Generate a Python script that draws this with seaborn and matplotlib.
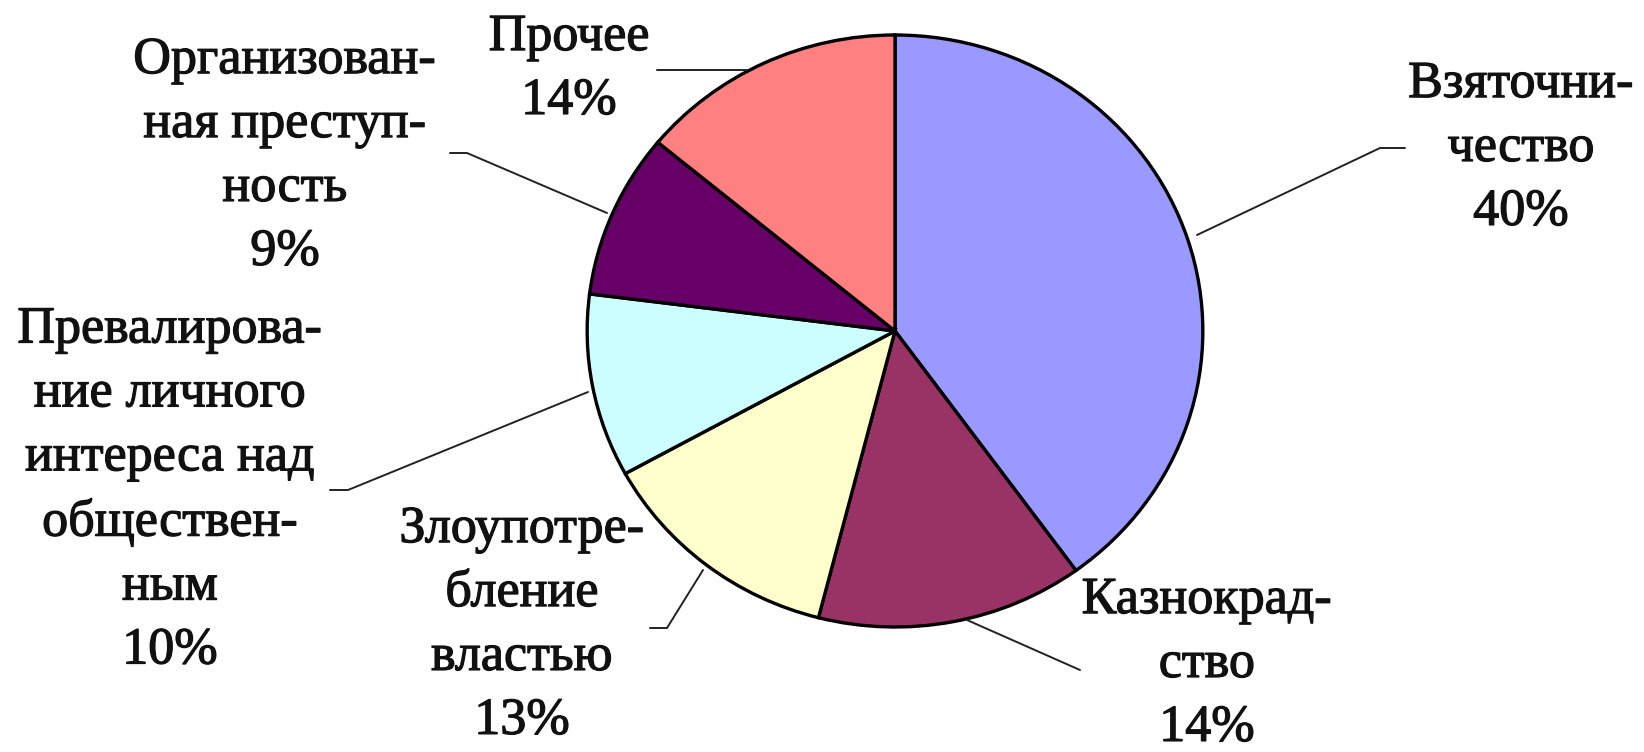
import matplotlib
matplotlib.use("Agg")
import matplotlib.pyplot as plt
import matplotlib.patheffects as pe
import seaborn as sns

categories = [
    "Взяточни-\nчество",
    "Казнокрад-\nство",
    "Злоупотре-\nбление\nвластью",
    "Превалирова-\nние личного\nинтереса над\nобществен-\nным",
    "Организован-\nная преступ-\nность",
    "Прочее",
]
values = [40, 14, 13, 10, 9, 14]
colors = ["#9999FF", "#993366", "#FFFFCC", "#CCFFFF", "#660066", "#FF8080"]

sns.set_style("white")
plt.rcParams["font.family"] = ["Liberation Serif", "DejaVu Serif"]

W, H = 1644, 752
EX = 1.04  # horizontal stretch of the original picture
fig = plt.figure(figsize=(W / 100, H / 100), dpi=100)
ax = fig.add_axes([0, 0, 1, 1])

def X(x):
    return x / EX

def Y(y):
    return H - y

cx, cy, r = 895, 331, 296
ax.pie(values, colors=sns.color_palette(colors), startangle=90, counterclock=False,
       center=(X(cx), Y(cy)), radius=r,
       wedgeprops=dict(edgecolor="black", linewidth=2.4))
ax.set_xlim(0, W / EX)
ax.set_ylim(0, H)
ax.set_aspect("auto")
ax.axis("off")

# label positions (text centers) and leader lines in pixel coords
label_pos = [(1521, 148), (1207, 664), (522, 625), (170, 490), (285, 156), (569, 69)]
leaders = [
    [(1197, 235), (1380, 148), (1405, 148)],
    [(967, 620), (1080, 670)],
    [(703, 570), (667, 628), (650, 628)],
    [(588, 392), (348, 490), (330, 490)],
    [(607, 213), (467, 153), (450, 153)],
    [(747, 70), (657, 70)],
]

for cat, val, (tx, ty), pts in zip(categories, values, label_pos, leaders):
    ax.text(X(tx), Y(ty), f"{cat}\n{val}%", ha="center", va="center", multialignment="center",
            fontsize=37.5, linespacing=1.43, color="#111111",
            path_effects=[pe.withStroke(linewidth=0.9, foreground="#111111")])
    ax.plot([X(p[0]) for p in pts], [Y(p[1]) for p in pts], color="#222222", lw=1.4)

fig.savefig("out.png", dpi=100, facecolor="white")
